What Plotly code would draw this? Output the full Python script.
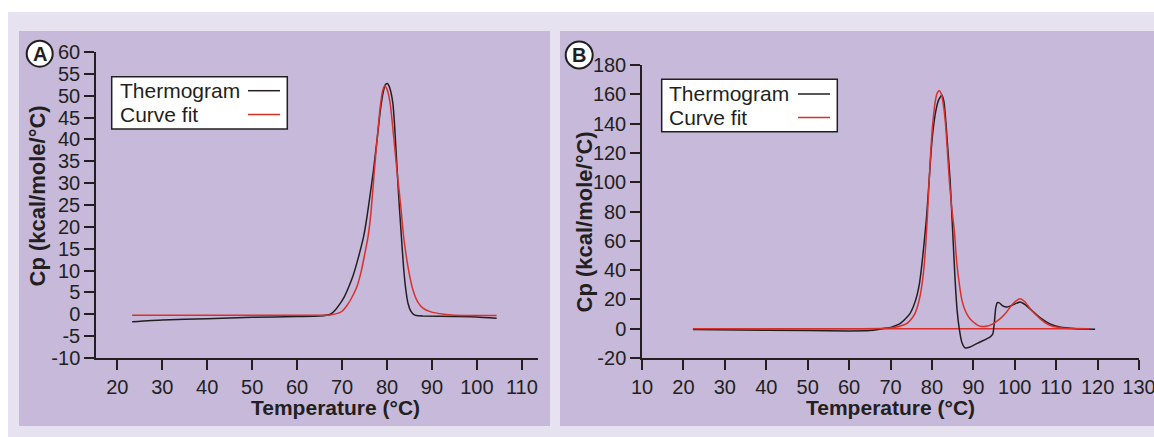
import plotly.graph_objects as go

# ---------------- Data ----------------
# Panel A
a_thermo_x = [23.3, 30, 40, 50, 60, 65, 67.4, 68.5, 69.6, 70.5, 71.5, 72.5, 73.5, 74.8, 75.5, 76.2,
              77.0, 77.8, 78.5, 79.2, 79.7, 80.1, 80.6, 81.3, 81.7, 82.2, 82.7, 83.2, 83.7, 84.2,
              84.7, 85.3, 86.0, 86.5, 88, 95, 100, 104.4]
a_thermo_y = [-1.7, -1.3, -1.0, -0.7, -0.5, -0.4, 0.0, 1.0, 2.5, 4.0, 6.3, 9.0, 12.5, 17.8, 22, 27,
              33, 40, 46.5, 51, 52.6, 52.8, 51.8, 48.3, 43, 34, 25.4, 17.8, 10.6, 5.5,
              2.4, 0.7, -0.1, -0.3, -0.4, -0.5, -0.6, -0.9]
a_fit_x = [23.3, 40, 60, 67, 69, 70, 71.1, 72, 73.3, 74.3, 75, 75.8, 76.5, 77.2, 77.8, 78.5, 79,
           79.5, 80, 80.7, 81.5, 82.2, 83, 83.7, 84.8, 85.8, 86.8, 88, 89.6, 92.6, 95, 104.4]
a_fit_y = [-0.2, -0.2, -0.2, -0.2, 0.2, 0.7, 2.0, 3.5, 6.3, 10, 13.5, 17.8, 24, 33, 40, 47.5, 51,
           52.3, 51.5, 48.3, 40.5, 33, 25.4, 17.8, 10.1, 5.5, 2.9, 1.4, 0.6, 0.0, -0.2, -0.3]

# Panel B
b_thermo_x = [22.3, 40, 60, 65, 67, 68.5, 70, 71, 72.3, 73.5, 74.7, 75.5, 76.3, 77.0, 77.5, 78.1,
              78.7, 79.3, 79.8, 80.3, 80.9, 81.6, 82.4, 82.9, 83.4, 83.7, 84.4, 85.0, 85.6, 86.1,
              86.6, 87.2, 88.0, 89.2, 91.6, 94.0, 94.7, 95.1, 95.4, 95.8, 96.3, 97.0, 98.1, 99.5,
              101.3, 102.5, 103.7, 106.1, 108.5, 110.9, 114.9, 119.4]
b_thermo_y = [-0.6, -1.0, -1.5, -1.2, -0.5, 0.3, 0.8, 1.8, 3.5, 6.5, 10.3, 15, 21.7, 31, 42, 58,
              76, 100, 121, 136, 148, 156, 159.5, 155, 140, 128, 101, 67, 33, 12,
              0, -9, -13, -12.5, -9.1, -5.7, -3.5, 5, 14, 17.8, 17.6, 15.8, 14.8, 16.2,
              18.3, 16.5, 13.5, 7.5, 3.3, 1.1, 0.0, -0.3]
b_fit_x = [22.3, 60, 68, 70, 72, 73.9, 75, 75.9, 76.5, 77.1, 77.6, 78.1, 78.5, 78.9, 79.3, 79.7,
           80.2, 80.8, 81.3, 81.8, 82.3, 82.9, 83.4, 84.2, 84.8, 85.4, 86.0, 86.6, 87.2, 88.0,
           89, 90, 91, 92, 93, 94.5, 96.5, 97.8, 98.9, 100.1, 101.3, 102.5, 103.7, 104.9,
           106.1, 107.3, 108.5, 110, 111.4, 114, 118]
b_fit_y = [0, 0, 0.1, 0.5, 1.5, 3.5, 6.5, 10.3, 15, 21.7, 30, 42.2, 57, 76.3, 99, 120,
           140, 155, 161, 162.4, 160, 150, 135.6, 101.4, 82, 67.2, 45, 31, 20, 12.6,
           7.5, 4.6, 2.5, 1.5, 1.6, 3, 6.9, 10.5, 14.8, 18.5, 20.5, 18.2, 13.7, 10,
           6.9, 4.2, 2.3, 1.1, 0.5, 0.1, 0]
b_base_x = [22.3, 118]
b_base_y = [0, 0]

# Ticks
a_xticks = [20, 30, 40, 50, 60, 70, 80, 90, 100, 110]
a_yticks = [-10, -5, 0, 5, 10, 15, 20, 25, 30, 35, 40, 45, 50, 55, 60]
b_xticks = [10, 20, 30, 40, 50, 60, 70, 80, 90, 100, 110, 120, 130]
b_yticks = [-20, 0, 20, 40, 60, 80, 100, 120, 140, 160, 180]

legend_labels = ["Thermogram", "Curve fit"]
x_title = "Temperature (°C)"
y_title = "Cp (kcal/mole/°C)"
panel_labels = ["A", "B"]

# ---------------- Styling ----------------
W, H = 1154, 437
INK = "#231F20"
RED = "#D9302B"
LAV = "#E7E2F0"
PUR = "#C6B9DA"
FONT = "Liberation Sans, Arial, sans-serif"


def px(x):
    return x / W


def py(y):
    return 1 - y / H


fig = go.Figure()

line_k = dict(color=INK, width=1.5, shape="spline", smoothing=0.5)
line_r = dict(color=RED, width=1.5, shape="spline", smoothing=0.5)

fig.add_trace(go.Scatter(x=a_thermo_x, y=a_thermo_y, mode="lines", line=line_k,
                         name=legend_labels[0], xaxis="x", yaxis="y", showlegend=False))
fig.add_trace(go.Scatter(x=a_fit_x, y=a_fit_y, mode="lines", line=line_r,
                         name=legend_labels[1], xaxis="x", yaxis="y", showlegend=False))
fig.add_trace(go.Scatter(x=b_base_x, y=b_base_y, mode="lines", line=dict(color=RED, width=1.5),
                         name="Baseline", xaxis="x2", yaxis="y2", showlegend=False))
fig.add_trace(go.Scatter(x=b_thermo_x, y=b_thermo_y, mode="lines", line=line_k,
                         name=legend_labels[0], xaxis="x2", yaxis="y2", showlegend=False))
fig.add_trace(go.Scatter(x=b_fit_x, y=b_fit_y, mode="lines", line=line_r,
                         name=legend_labels[1], xaxis="x2", yaxis="y2", showlegend=False))

tickfont = dict(family=FONT, size=20, color=INK)
axis_common = dict(showline=True, linecolor=INK, linewidth=1.5, ticks="outside", ticklen=10,
                   tickwidth=1.5, tickcolor=INK, showgrid=False, zeroline=False,
                   tickfont=tickfont, mirror=False, fixedrange=True, automargin=False,
                   ticklabeloverflow="allow")

# Panel A plot area: x 96..538, y 52..358 ; Panel B: x 642..1139, y 65..358
fig.update_layout(
    width=W, height=H, margin=dict(l=0, r=0, t=0, b=0, autoexpand=False), autosize=False,
    paper_bgcolor="white", plot_bgcolor="white", showlegend=False,
    xaxis=dict(domain=[px(96), px(538)], range=[15.25, 113.6], tickvals=a_xticks,
               ticktext=[str(v) for v in a_xticks], anchor="y", **axis_common),
    yaxis=dict(domain=[py(358), py(52)], range=[-10, 60], tickvals=a_yticks,
               ticktext=[str(v) for v in a_yticks], anchor="x", **axis_common),
    xaxis2=dict(domain=[px(642), px(1139)], range=[10, 130], tickvals=b_xticks,
                ticktext=[str(v) for v in b_xticks], anchor="y2", **axis_common),
    yaxis2=dict(domain=[py(358), py(65)], range=[-20, 180], tickvals=b_yticks,
                ticktext=[str(v) for v in b_yticks], anchor="x2", **axis_common),
)

shapes = []
# backgrounds
shapes.append(dict(type="rect", xref="paper", yref="paper", x0=px(8), x1=px(1154), y0=py(437), y1=py(12),
                   fillcolor=LAV, line=dict(width=0), layer="below"))
shapes.append(dict(type="rect", xref="paper", yref="paper", x0=px(19), x1=px(550), y0=py(426), y1=py(31),
                   fillcolor=PUR, line=dict(width=0), layer="below"))
shapes.append(dict(type="rect", xref="paper", yref="paper", x0=px(560), x1=px(1154), y0=py(426), y1=py(31),
                   fillcolor=PUR, line=dict(width=0), layer="below"))

annotations = []

# legends (drawn manually: text left, line sample right)
legend_boxes = [
    dict(x0=111.7, x1=287.3, y0=76.7, y1=129, tx=118, rows=[90.7, 114.5], lx0=248, lx1=280),
    dict(x0=661.7, x1=837.3, y0=79.3, y1=131.7, tx=666.5, rows=[94.0, 117.5], lx0=798, lx1=830),
]
for lb in legend_boxes:
    shapes.append(dict(type="rect", xref="paper", yref="paper", x0=px(lb["x0"]), x1=px(lb["x1"]),
                       y0=py(lb["y1"]), y1=py(lb["y0"]), fillcolor="white",
                       line=dict(color=INK, width=1.5), layer="above"))
    for label, yrow, col in zip(legend_labels, lb["rows"], [INK, RED]):
        shapes.append(dict(type="line", xref="paper", yref="paper", x0=px(lb["lx0"]), x1=px(lb["lx1"]),
                           y0=py(yrow), y1=py(yrow), line=dict(color=col, width=1.5), layer="above"))
        annotations.append(dict(xref="paper", yref="paper", x=px(lb["tx"]), y=py(yrow), text=label,
                                showarrow=False, xanchor="left", yanchor="middle",
                                font=dict(family=FONT, size=21, color=INK)))

# panel label circles
for lab, cx, cy, r in [(panel_labels[0], 39.7, 53.7, 13), (panel_labels[1], 579.2, 55.0, 13.5)]:
    shapes.append(dict(type="circle", xref="paper", yref="paper", x0=px(cx - r), x1=px(cx + r),
                       y0=py(cy + r), y1=py(cy - r), fillcolor="white",
                       line=dict(color=INK, width=2), layer="above"))
    annotations.append(dict(xref="paper", yref="paper", x=px(cx), y=py(cy + 0.5), text="<b>%s</b>" % lab,
                            showarrow=False, xanchor="center", yanchor="middle",
                            font=dict(family=FONT, size=20, color=INK)))

# axis titles
for cx in [335, 890]:
    annotations.append(dict(xref="paper", yref="paper", x=px(cx), y=py(407), text="<b>%s</b>" % x_title,
                            showarrow=False, xanchor="center", yanchor="middle",
                            font=dict(family=FONT, size=21, color=INK)))
for cx, cy in [(36.5, 196), (583.5, 222)]:
    annotations.append(dict(xref="paper", yref="paper", x=px(cx), y=py(cy), text="<b>%s</b>" % y_title,
                            showarrow=False, xanchor="center", yanchor="middle", textangle=-90,
                            font=dict(family=FONT, size=22, color=INK)))

fig.update_layout(shapes=shapes, annotations=annotations)

post = (
    "document.documentElement.style.margin='0';document.documentElement.style.padding='0';"
    "document.documentElement.style.overflow='hidden';"
    "document.body.style.margin='0';document.body.style.padding='0';"
    "document.body.style.overflow='hidden';"
    "var gd=document.querySelector('.plotly-graph-div');"
    "if(gd){gd.style.position='fixed';gd.style.left='0px';gd.style.top='0px';}"
)
fig.write_html("out.html", config={"displayModeBar": False}, post_script=post)
